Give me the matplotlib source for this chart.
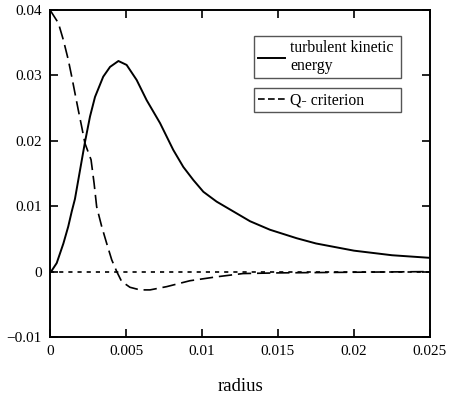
import numpy as np
import matplotlib.pyplot as plt
from matplotlib.lines import Line2D

plt.rcParams['font.family'] = ['Liberation Serif', 'DejaVu Serif']

# turbulent kinetic energy
tke_r = [0, 0.0001, 0.00044, 0.00088, 0.0012, 0.00143, 0.00164, 0.0023,
         0.00263, 0.00296, 0.0035, 0.00395, 0.0045, 0.00504, 0.0057, 0.00636,
         0.00724, 0.00811, 0.00877, 0.00943, 0.01009, 0.01096, 0.01206, 0.01316,
         0.01447, 0.01623, 0.0175, 0.02, 0.0225, 0.025]
tke_v = [0, 0.0001, 0.0013, 0.0043, 0.0069, 0.0092, 0.0111, 0.0198,
         0.0237, 0.0267, 0.0298, 0.0313, 0.0322, 0.0316, 0.0293, 0.0262,
         0.0227, 0.0186, 0.0160, 0.0140, 0.0122, 0.0107, 0.0092, 0.0077,
         0.0064, 0.0051, 0.0043, 0.0032, 0.0025, 0.0021]

# Q-criterion
q_r = [0, 0.00055, 0.00088, 0.0012, 0.00143, 0.00164, 0.00186, 0.00208, 0.0023,
       0.0027, 0.0029, 0.00307, 0.0034, 0.00373, 0.00406, 0.00439, 0.00471,
       0.00526, 0.00592, 0.00658, 0.00768, 0.0092, 0.01096, 0.0127, 0.015,
       0.02, 0.025]
q_v = [0.040, 0.038, 0.0354, 0.0324, 0.0298, 0.0273, 0.0247, 0.0222, 0.0196,
       0.0171, 0.0135, 0.0099, 0.0069, 0.0043, 0.0018, 0.0, -0.0015,
       -0.0024, -0.0028, -0.0028, -0.0023, -0.0014, -0.0008, -0.0003, -0.0002,
       -0.0001, 0.0]

xticks = [0, 0.005, 0.01, 0.015, 0.02, 0.025]
xlabels = ['0', '0.005', '0.01', '0.015', '0.02', '0.025']
yticks = [-0.01, 0, 0.01, 0.02, 0.03, 0.04]
ylabels = ['\u22120.01', '0', '0.01', '0.02', '0.03', '0.04']

fig = plt.figure(figsize=(4.51, 3.98), dpi=100)
ax = fig.add_axes([0.1109, 0.1533, 0.8425, 0.8216])

ax.axhline(0, color='black', linestyle=(0, (2.5, 3)), linewidth=1.2)
l1, = ax.plot(tke_r, tke_v, color='black', linewidth=1.4)
l2, = ax.plot(q_r, q_v, color='black', linewidth=1.2, linestyle=(0, (8, 3.5)))

ax.set_xlim(0, 0.025)
ax.set_ylim(-0.01, 0.04)
ax.set_xticks(xticks)
ax.set_xticklabels(xlabels)
ax.set_yticks(yticks)
ax.set_yticklabels(ylabels)
ax.tick_params(direction='in', top=True, right=True, length=6, width=1.2,
               labelsize=11, pad=6)
for s in ax.spines.values():
    s.set_linewidth(1.4)
ax.set_xlabel('radius', fontsize=13.5, labelpad=14)

leg_kw = dict(loc='upper left', mode='expand', fancybox=False, framealpha=1,
              edgecolor='#555555', fontsize=11.3, handlelength=1.75,
              borderpad=0.25, handletextpad=0.3, borderaxespad=0)
leg1 = ax.legend([l1], ['turbulent kinetic\nenergy'],
                 bbox_to_anchor=(0.537, 0.0, 0.387, 0.920), **leg_kw)
ax.add_artist(leg1)
ax.legend([Line2D([], [], color='black', linewidth=1.2, linestyle=(0, (4, 2)))],
          ['Q- criterion'], bbox_to_anchor=(0.537, 0.0, 0.387, 0.761), **leg_kw)

fig.savefig('out.png', dpi=100)
